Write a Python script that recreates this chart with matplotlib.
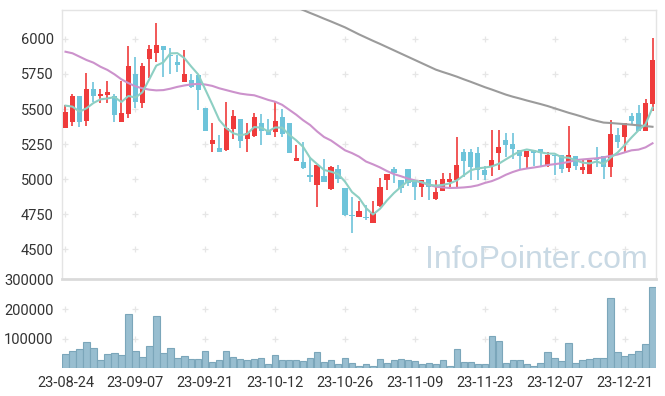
import matplotlib
matplotlib.use("Agg")
import matplotlib.pyplot as plt
import numpy as np

# ---------------- data ----------------
aug = ["23-08-%s" % d for d in "24 25 28 29 30 31".split()]
sep = ["23-09-%s" % d for d in "01 04 05 06 07 08 11 12 13 14 15 18 19 20 21 22 25 26 27".split()]
oct_ = ["23-10-%s" % d for d in "04 05 06 10 11 12 13 16 17 18 19 20 23 24 25 26 27 30 31".split()]
nov = ["23-11-%s" % d for d in "01 02 03 06 07 08 09 10 13 14 15 16 17 20 21 22 23 24 27 28 29 30".split()]
dec = ["23-12-%s" % d for d in "01 04 05 06 07 08 11 12 13 14 15 18 19 20 21 22 26 27 28".split()]
dates = aug + sep + oct_ + nov + dec

opens = [5367, 5410, 5593, 5414, 5643, 5593, 5600, 5593, 5410, 5467,
         5750, 5545, 5855, 5902, 5950, 5886, 5838, 5695, 5707, 5743,
         5509, 5248, 5221, 5207, 5360, 5429, 5286, 5310, 5400, 5350,
         5338, 5440, 5400, 5129, 5119, 5021, 4960, 5024, 4931, 5069,
         4936, 4741, 4731, 4724, 4688, 4807, 4993, 5069, 4993, 5069,
         4993, 4945, 4998, 4855, 4917, 4979, 4993, 5195, 5195, 5188,
         5064, 5093, 5188, 5279, 5250, 5207, 5160, 5207, 5214, 5095,
         5171, 5171, 5081, 5164, 5064, 5038, 5143, 5164, 5088, 5314,
         5298, 5452, 5469, 5343, 5536]
highs = [5528, 5605, 5593, 5755, 5695, 5640, 5702, 5607, 5700, 5950,
         5869, 5826, 5957, 6112, 5950, 5933, 5886, 5921, 5750, 5743,
         5509, 5398, 5317, 5548, 5493, 5429, 5398, 5469, 5462, 5426,
         5548, 5498, 5400, 5243, 5267, 5160, 5100, 5140, 5093, 5100,
         4936, 4875, 4845, 4814, 4845, 5010, 5033, 5088, 4993, 5069,
         4993, 4993, 4998, 4993, 5045, 5040, 5298, 5212, 5212, 5226,
         5093, 5350, 5350, 5331, 5331, 5207, 5200, 5207, 5214, 5195,
         5171, 5171, 5379, 5164, 5136, 5136, 5226, 5164, 5420, 5362,
         5398, 5469, 5529, 5571, 6005]
lows = [5362, 5379, 5369, 5379, 5548, 5541, 5541, 5410, 5409, 5433,
        5510, 5505, 5719, 5838, 5726, 5750, 5766, 5695, 5648, 5493,
        5345, 5195, 5195, 5200, 5288, 5219, 5190, 5302, 5240, 5317,
        5302, 5302, 5188, 5129, 5069, 4981, 4802, 4981, 4921, 4974,
        4736, 4615, 4731, 4710, 4688, 4802, 4921, 4972, 4902, 4950,
        4850, 4874, 4850, 4850, 4917, 4933, 4933, 5012, 4993, 4993,
        4993, 5021, 5064, 5160, 5145, 5064, 5069, 5093, 5093, 5088,
        5029, 5040, 5048, 5064, 5033, 5033, 5088, 4998, 5017, 5219,
        5190, 5386, 5343, 5343, 5486]
closes = [5478, 5590, 5410, 5643, 5593, 5607, 5621, 5459, 5471, 5807,
          5552, 5807, 5926, 5957, 5921, 5876, 5814, 5750, 5655, 5636,
          5345, 5279, 5195, 5364, 5450, 5274, 5326, 5440, 5345, 5317,
          5412, 5319, 5188, 5148, 5081, 5017, 5100, 4981, 5083, 4998,
          4741, 4733, 4774, 4719, 4767, 4941, 5033, 5041, 4938, 4975,
          4945, 4993, 4945, 4909, 4998, 4998, 5100, 5131, 5088, 5064,
          5029, 5136, 5229, 5243, 5214, 5167, 5200, 5188, 5183, 5171,
          5164, 5069, 5171, 5095, 5086, 5136, 5136, 5088, 5321, 5262,
          5398, 5414, 5343, 5540, 5850]
volumes = [48000, 58000, 65000, 89000, 68000, 27000, 48000, 51000, 45000, 184000,
           58000, 38000, 75000, 177000, 51000, 68000, 35000, 42000, 32000, 32000,
           58000, 22000, 28000, 58000, 38000, 32000, 28000, 32000, 35000, 15000,
           45000, 28000, 28000, 28000, 25000, 35000, 55000, 22000, 28000, 12000,
           35000, 18000, 8000, 12000, 8000, 32000, 18000, 28000, 32000, 28000,
           25000, 15000, 18000, 15000, 28000, 8000, 65000, 22000, 22000, 15000,
           15000, 110000, 92000, 18000, 28000, 28000, 12000, 8000, 18000, 55000,
           35000, 25000, 85000, 18000, 28000, 32000, 35000, 35000, 240000, 55000,
           42000, 48000, 58000, 82000, 275000]
ma5 = [5524, 5517, 5481, 5505, 5543, 5569, 5575, 5585, 5550, 5593,
       5582, 5619, 5713, 5810, 5833, 5897, 5899, 5864, 5803, 5746,
       5640, 5533, 5422, 5364, 5327, 5312, 5322, 5371, 5367, 5340,
       5368, 5367, 5316, 5277, 5230, 5151, 5107, 5065, 5052, 5036,
       4981, 4907, 4866, 4793, 4747, 4787, 4847, 4900, 4944, 4986,
       4986, 4978, 4959, 4953, 4958, 4969, 4990, 5027, 5063, 5076,
       5082, 5090, 5109, 5140, 5170, 5198, 5211, 5202, 5190, 5182,
       5181, 5155, 5152, 5134, 5117, 5111, 5125, 5108, 5153, 5189,
       5241, 5297, 5348, 5391, 5509]
ma20 = [5909, 5898, 5874, 5850, 5831, 5802, 5779, 5748, 5712, 5685,
        5662, 5648, 5638, 5633, 5635, 5645, 5658, 5668, 5676, 5679,
        5675, 5665, 5648, 5635, 5622, 5610, 5603, 5598, 5582, 5565,
        5552, 5530, 5495, 5460, 5420, 5386, 5340, 5300, 5275, 5240,
        5205, 5185, 5160, 5125, 5105, 5083, 5057, 5035, 5020, 5003,
        4990, 4975, 4958, 4945, 4940, 4936, 4937, 4940, 4945, 4955,
        4972, 4985, 5005, 5030, 5050, 5066, 5075, 5082, 5090, 5100,
        5106, 5113, 5122, 5135, 5140, 5144, 5148, 5155, 5165, 5175,
        5190, 5205, 5210, 5226, 5255]
ma60 = [np.nan] * 32 + [
        6248, 6227, 6207, 6186, 6166, 6145, 6125, 6104,
        6083, 6058, 6033, 6010, 5987, 5965, 5942, 5919, 5896, 5873,
        5850, 5827, 5804, 5781, 5764, 5748, 5731, 5712, 5694, 5675,
        5656, 5639, 5621, 5603, 5588, 5575, 5561, 5548, 5535, 5521,
        5505, 5489, 5473, 5459, 5444, 5428, 5415, 5403, 5400, 5396,
        5392, 5388, 5383, 5378, 5373]
price_ticks = [4500, 4750, 5000, 5250, 5500, 5750, 6000]
volume_ticks = [100000, 200000, 300000]
tick_step = 10

# ---------------- drawing ----------------
plt.rcParams["font.family"] = ["Roboto", "DejaVu Sans"]
W, H = 665, 396
fig = plt.figure(figsize=(W / 100, H / 100), dpi=100)
L, R = 62, 656
ax = fig.add_axes([L / W, 1 - 279 / H, (R - L) / W, (279 - 10) / H])
axv = fig.add_axes([L / W, 1 - 368 / H, (R - L) / W, (368 - 279) / H], sharex=ax)

x = np.arange(len(dates))
o = np.array(opens, float); c = np.array(closes, float)
hi = np.array(highs, float); lo = np.array(lows, float)
up = c >= o
RED, BLUE = "#ef3b3b", "#6ec4da"
cols = np.where(up, RED, BLUE)

ax.vlines(x, lo, hi, colors=cols, lw=1.2, zorder=2)
bottom = np.minimum(o, c)
height = np.maximum(np.abs(c - o), 9)
ax.bar(x, height, bottom=bottom, width=0.74, color=cols, linewidth=0, zorder=3)

ax.plot(x, ma60, color="#9b9b9b", lw=1.5, zorder=4)
ax.plot(x, ma20, color="#cc92cc", lw=1.5, zorder=4)
ax.plot(x, ma5, color="#8dcfc3", lw=1.5, zorder=5)

xt = x[::tick_step]
gx, gy = np.meshgrid(xt, price_ticks)
ax.scatter(gx.ravel(), gy.ravel(), marker="+", s=16, color="#e6e6e6", lw=0.9, zorder=0)

ax.set_xlim(-0.5, len(dates) - 0.5)
ax.set_ylim(4286, 6207)
ax.set_yticks(price_ticks)
ax.set_yticklabels([str(t) for t in price_ticks])
ax.tick_params(axis="y", length=0, pad=6, labelsize=10.5, labelcolor="#333333")
ax.tick_params(axis="x", length=0, labelbottom=False)
for s in ax.spines.values():
    s.set_color("#e4e4e4")
    s.set_linewidth(1)
ax.spines["bottom"].set_visible(False)

ax.text(0.9865, 0.04, "InfoPointer.com", transform=ax.transAxes, ha="right",
        va="baseline", fontsize=23, color="#c9d9e4",
        family=["Liberation Sans", "DejaVu Sans"], zorder=1)

# volume
axv.bar(x, volumes, width=0.92, color="#98bed0", edgecolor="#7ba6ba", linewidth=0.8, zorder=2)
gx2, gy2 = np.meshgrid(xt, volume_ticks[:2])
axv.scatter(gx2.ravel(), gy2.ravel(), marker="+", s=16, color="#e6e6e6", lw=0.9, zorder=0)
axv.set_ylim(0, 303000)
axv.set_yticks(volume_ticks)
axv.set_yticklabels([str(t) for t in volume_ticks])
axv.set_xticks(xt)
axv.set_xticklabels([dates[i] for i in xt])
axv.tick_params(axis="both", length=0, labelsize=10.5, labelcolor="#333333")
axv.tick_params(axis="y", pad=6)
axv.tick_params(axis="x", pad=6)
for k, s in axv.spines.items():
    s.set_visible(False)
axv.spines["top"].set_visible(True)
axv.spines["top"].set_color("#dadada")
axv.spines["top"].set_linewidth(2)

fig.savefig("out.png", dpi=100)
